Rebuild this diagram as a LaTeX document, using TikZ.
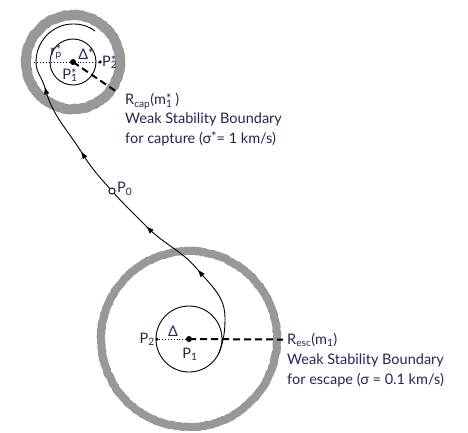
\documentclass[tikz,border=0pt]{standalone}
\usepackage{fontspec}
\setmainfont{Lato}
\usetikzlibrary{arrows.meta,positioning,decorations.markings,decorations.pathmorphing}
\definecolor{lblcol}{RGB}{40,36,84}
\definecolor{ringgray}{RGB}{152,152,152}
\newcommand{\sstar}{\raisebox{0.15ex}{\fontsize{13}{13}\selectfont *}}

\begin{document}
\begin{tikzpicture}[x=1pt,y=1pt,
wsb/.style={draw=ringgray,line join=round,decorate,decoration={random steps,segment length=1.6pt,amplitude=0.6pt}},
orbit/.style={draw,line width=0.9pt},
body/.style={circle,fill,inner sep=0pt,minimum size=#1},
lbl/.style={text=lblcol,font=\fontsize{14.5}{17}\selectfont,inner sep=0pt},
rad/.style={line width=2pt,dash pattern=on 7pt off 4pt},
traj/.style={line width=0.9pt,postaction={decorate},decoration={markings,
  mark=at position 0.208 with {\arrow{Triangle[length=7pt,width=5pt]}},
  mark=at position 0.36 with {\arrow{Triangle[length=7pt,width=5pt]}},
  mark=at position 0.585 with {\arrow{Triangle[length=7pt,width=5pt]}},
  mark=at position 0.753 with {\arrow{Triangle[length=7pt,width=5pt]}}}}]
\useasboundingbox (0,0) rectangle (468,-433);

% bodies
\node[body=6pt](P1s) at (73,-62){};
\node[body=3.5pt](P2s) at (100,-62){};
\node[body=6pt](P1) at (189,-339){};
\node[body=3.5pt](P2) at (157,-339){};

% weak stability boundaries
\draw[wsb,line width=10pt](P1s) circle (47pt);
\draw[wsb,line width=8pt](P1) circle (88pt);
\draw[orbit](P1s) circle (23pt);
\draw[orbit](P1) circle (33pt);

% trajectory
\coordinate(t0) at (219,-353);
\coordinate(t1) at (225,-318);
\coordinate(t3) at (198,-270);
\coordinate(a4) at (147,-227);
\coordinate(a5) at (82,-153);
\coordinate(t5) at (45,-88);
\coordinate(t6) at (36,-62);
\coordinate(t7) at (73,-24);
\coordinate(t8) at (95,-31);
\node[circle,draw,fill=white,inner sep=0pt,minimum size=6pt,line width=0.8pt](P0) at (112,-191){};
\draw[traj](t0) to[out=70,in=-90](t1) to[out=90,in=-50](t3) to[out=130,in=-45](a4)
  to[out=135,in=-48](P0.center) to[out=132,in=-58](a5) to[out=122,in=-75](t5)
  to[out=105,in=-90](t6) to[out=90,in=180](t7) to[out=0,in=145](t8);
\node[circle,draw,fill=white,inner sep=0pt,minimum size=6pt,line width=0.8pt] at (P0){};

% labels
\node[lbl,anchor=west](lP0) at (117,-189){P\textsubscript{0}};
\node[lbl,anchor=east](lP2) at (155,-339){P\textsubscript{2}};
\node[lbl](lDel) at (173,-331){Δ};
\node[lbl](lP1) at (190,-354){P\textsubscript{1}};
\node[lbl](lrp) at (56,-52){r\rlap{\sstar}\textsubscript{p}};
\node[lbl](lDs) at (86,-54){Δ\sstar};
\node[lbl](lP1s) at (70,-75){P\rlap{\sstar}\textsubscript{1}};
\node[lbl,anchor=west](lP2s) at (102,-62){P\rlap{\sstar}\textsubscript{2}};

\node[lbl,anchor=base west](rcap) at (125,-105){R\textsubscript{cap}(m\rlap{\sstar}\textsubscript{1}\hspace{3pt})};
\node[lbl,anchor=base west](capA) at (125,-124){Weak Stability Boundary};
\node[lbl,anchor=base west](capB) at (125,-143){for capture (σ\sstar= 1 km/s)};
\node[lbl,anchor=base west](resc) at (287,-344){R\textsubscript{esc}(m\textsubscript{1})};
\node[lbl,anchor=base west](escA) at (287,-364){Weak Stability Boundary};
\node[lbl,anchor=base west](escB) at (287,-384){for escape (σ = 0.1 km/s)};

% radii
\coordinate(capE) at (117,-92);
\draw[rad](P1s.center)--(capE);
\draw[rad](P1.center)--([xshift=-4pt]resc.west);
\coordinate(rpL) at (34,-62);
\draw[dotted,line width=0.9pt](rpL)--(P2s.center);
\draw[dotted,line width=0.9pt](P1.center)--(P2.center);
\end{tikzpicture}
\end{document}
